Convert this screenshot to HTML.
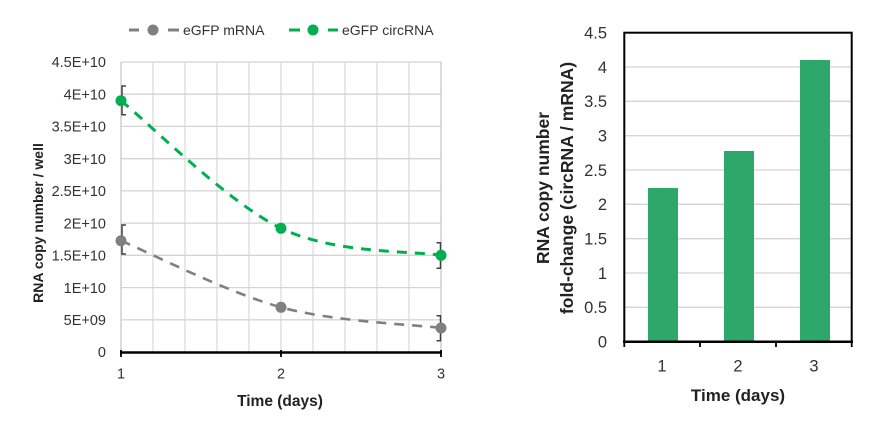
<!DOCTYPE html>
<html>
<head>
<meta charset="utf-8">
<style>
  html, body { margin: 0; padding: 0; background: #ffffff; }
  body { width: 875px; height: 435px; overflow: hidden; }
  svg { display: block; }
  text { font-family: "Liberation Sans", sans-serif; }
</style>
</head>
<body>
<svg width="875" height="435" viewBox="0 0 875 435" xmlns="http://www.w3.org/2000/svg">
  <rect x="0" y="0" width="875" height="435" fill="#ffffff"/>

  <!-- ================= LEFT CHART ================= -->
  <g stroke="#dcdcdc" stroke-width="1.3">
    <line x1="153" y1="62" x2="153" y2="352"/>
    <line x1="185" y1="62" x2="185" y2="352"/>
    <line x1="217" y1="62" x2="217" y2="352"/>
    <line x1="249" y1="62" x2="249" y2="352"/>
    <line x1="281" y1="62" x2="281" y2="352"/>
    <line x1="313" y1="62" x2="313" y2="352"/>
    <line x1="345" y1="62" x2="345" y2="352"/>
    <line x1="377" y1="62" x2="377" y2="352"/>
    <line x1="409" y1="62" x2="409" y2="352"/>
  </g>
  <g stroke="#d4d4d4" stroke-width="1.3">
    <line x1="121" y1="62" x2="441" y2="62"/>
    <line x1="121" y1="94.2" x2="441" y2="94.2"/>
    <line x1="121" y1="126.4" x2="441" y2="126.4"/>
    <line x1="121" y1="158.7" x2="441" y2="158.7"/>
    <line x1="121" y1="190.9" x2="441" y2="190.9"/>
    <line x1="121" y1="223.1" x2="441" y2="223.1"/>
    <line x1="121" y1="255.3" x2="441" y2="255.3"/>
    <line x1="121" y1="287.6" x2="441" y2="287.6"/>
    <line x1="121" y1="319.8" x2="441" y2="319.8"/>
  </g>
  <line x1="121" y1="62" x2="121" y2="352" stroke="#cfcfcf" stroke-width="1.5"/>
  <line x1="441" y1="62" x2="441" y2="352" stroke="#cfcfcf" stroke-width="1.5"/>
  <line x1="120" y1="352.5" x2="442" y2="352.5" stroke="#000" stroke-width="2.5"/>
  <g stroke="#000" stroke-width="1.8">
    <line x1="121" y1="350" x2="121" y2="357"/>
    <line x1="281" y1="350" x2="281" y2="357"/>
    <line x1="441" y1="350" x2="441" y2="357"/>
  </g>

  <g font-size="14.5" fill="#333" text-anchor="end">
    <text x="106" y="67.2">4.5E+10</text>
    <text x="106" y="99.4">4E+10</text>
    <text x="106" y="131.6">3.5E+10</text>
    <text x="106" y="163.9">3E+10</text>
    <text x="106" y="196.1">2.5E+10</text>
    <text x="106" y="228.3">2E+10</text>
    <text x="106" y="260.5">1.5E+10</text>
    <text x="106" y="292.8">1E+10</text>
    <text x="106" y="325">5E+09</text>
    <text x="106" y="357.2">0</text>
  </g>
  <g font-size="14.5" fill="#333" text-anchor="middle">
    <text x="121" y="378.5">1</text>
    <text x="281" y="378.5">2</text>
    <text x="441" y="378.5">3</text>
  </g>
  <text x="280" y="406" font-size="15.5" font-weight="bold" fill="#222" text-anchor="middle">Time (days)</text>
  <text transform="translate(43,223) rotate(-90)" font-size="14" font-weight="bold" fill="#222" text-anchor="middle">RNA copy number / well</text>

  <g stroke="#404040" stroke-width="1.5" fill="none">
    <path d="M126,86 H122 V114.7 H126"/>
    <path d="M126,225 H122 V254 H126"/>
    <path d="M436.5,242.7 H440.5 V268.3 H436.5"/>
    <path d="M436.5,315.7 H440.5 V340.7 H436.5"/>
  </g>

  <path d="M121,100.7 C147.7,122 227.7,202.5 281,228.3 C334.3,254.1 414.3,250.8 441,255.3"
        fill="none" stroke="#00b050" stroke-width="3" stroke-dasharray="10,8"/>
  <path d="M121,240.7 C147.7,251.8 227.7,292.75 281,307.3 C334.3,321.85 414.3,324.55 441,328"
        fill="none" stroke="#808080" stroke-width="2.6" stroke-dasharray="10,8"/>

  <g fill="#00b050">
    <circle cx="121" cy="100.7" r="5.5"/>
    <circle cx="281" cy="228.3" r="5.5"/>
    <circle cx="441" cy="255.3" r="5.5"/>
  </g>
  <g fill="#808080">
    <circle cx="121" cy="240.7" r="5.5"/>
    <circle cx="281" cy="307.3" r="5.5"/>
    <circle cx="441" cy="328" r="5.5"/>
  </g>

  <g stroke-width="3">
    <line x1="129" y1="30" x2="139" y2="30" stroke="#808080"/>
    <line x1="168" y1="30" x2="179" y2="30" stroke="#808080"/>
    <line x1="289" y1="30" x2="300" y2="30" stroke="#00b050"/>
    <line x1="328" y1="30" x2="338" y2="30" stroke="#00b050"/>
  </g>
  <circle cx="153" cy="30" r="5.5" fill="#808080"/>
  <circle cx="313" cy="30" r="5.5" fill="#00b050"/>
  <g font-size="14" fill="#333">
    <text x="183" y="35">eGFP mRNA</text>
    <text x="342" y="35">eGFP circRNA</text>
  </g>

  <!-- ================= RIGHT CHART ================= -->
  <g stroke="#d4d4d4" stroke-width="1.3">
    <line x1="624" y1="67" x2="852" y2="67"/>
    <line x1="624" y1="101.3" x2="852" y2="101.3"/>
    <line x1="624" y1="135.7" x2="852" y2="135.7"/>
    <line x1="624" y1="170" x2="852" y2="170"/>
    <line x1="624" y1="204.3" x2="852" y2="204.3"/>
    <line x1="624" y1="238.7" x2="852" y2="238.7"/>
    <line x1="624" y1="273" x2="852" y2="273"/>
    <line x1="624" y1="307.3" x2="852" y2="307.3"/>
  </g>
  <g fill="#2ea86a">
    <rect x="648" y="188" width="30" height="153.7"/>
    <rect x="724" y="151" width="30" height="190.7"/>
    <rect x="800" y="60" width="30" height="281.7"/>
  </g>
  <rect x="624.3" y="32.7" width="227.4" height="309" fill="none" stroke="#000" stroke-width="2"/>
  <line x1="623" y1="341.7" x2="853" y2="341.7" stroke="#000" stroke-width="2.5"/>
  <g stroke="#000" stroke-width="1.8">
    <line x1="624.3" y1="341" x2="624.3" y2="347"/>
    <line x1="700" y1="341" x2="700" y2="347"/>
    <line x1="776" y1="341" x2="776" y2="347"/>
    <line x1="851.7" y1="341" x2="851.7" y2="347"/>
  </g>
  <g font-size="16.5" fill="#333" text-anchor="end">
    <text x="607" y="38.6">4.5</text>
    <text x="607" y="72.9">4</text>
    <text x="607" y="107.2">3.5</text>
    <text x="607" y="141.6">3</text>
    <text x="607" y="175.9">2.5</text>
    <text x="607" y="210.2">2</text>
    <text x="607" y="244.6">1.5</text>
    <text x="607" y="278.9">1</text>
    <text x="607" y="313.2">0.5</text>
    <text x="607" y="347.6">0</text>
  </g>
  <g font-size="16.5" fill="#333" text-anchor="middle">
    <text x="662" y="371.5">1</text>
    <text x="738" y="371.5">2</text>
    <text x="814" y="371.5">3</text>
  </g>
  <text x="738" y="401" font-size="17" font-weight="bold" fill="#222" text-anchor="middle">Time (days)</text>
  <text transform="translate(549,188) rotate(-90)" font-size="17.5" font-weight="bold" fill="#222" text-anchor="middle">RNA copy number</text>
  <text transform="translate(573,188) rotate(-90)" font-size="17.5" font-weight="bold" fill="#222" text-anchor="middle">fold-change (circRNA / mRNA)</text>
</svg>
</body>
</html>
